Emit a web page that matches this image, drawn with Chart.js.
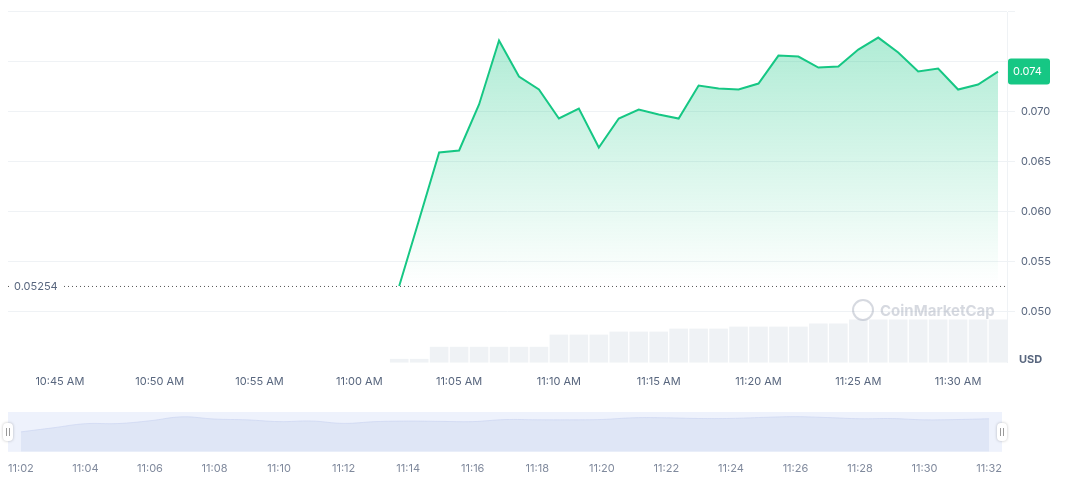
<!DOCTYPE html>
<html><head><meta charset="utf-8">
<script src="https://cdn.jsdelivr.net/npm/chart.js@4"></script>
<style>
body{margin:0;background:#fff;width:1072px;height:477px;overflow:hidden;font-family:Inter,sans-serif}
#c1{position:absolute;left:0;top:0}
#c2{position:absolute;left:0;top:400px}
</style></head><body>
<canvas id="c1" width="1072" height="392"></canvas>
<canvas id="c2" width="1072" height="77"></canvas>
<script>
// minutes after 10:00
const minutes = [62,63,64,65,66,67,68,69,70,71,72,73,74,75,76,77,78,79,80,81,82,83,84,85,86,87,88,89,90,91,92];
const prices = [0.05254,0.0592,0.0659,0.0661,0.0707,0.0771,0.0735,0.0722,0.0693,0.0703,0.0664,0.0693,0.0702,0.0697,0.0693,0.0726,0.0723,0.0722,0.0728,0.0756,0.0755,0.0744,0.0745,0.0762,0.0774,0.0759,0.0740,0.0743,0.0722,0.0727,0.0740];
const volumes = [4,4,16,16,16,16,16,16,28,28,28,31,31,31,34,34,34,36,36,36,36,39,39,43,43,43,43,43,43,43,43];
const yTicks = [0.050,0.055,0.060,0.065,0.070];
const refPrice = 0.05254;
const lastLabel = "0.074";
const fmt = m => { let h=10+Math.floor(m/60), mm=m%60; let hh=h>12?h-12:h; return hh+':'+String(mm).padStart(2,'0'); };
const GREEN = '#16c784';

const overlay = {
  id:'overlay',
  afterDatasetsDraw(ch){
    const {ctx, chartArea:a, scales:{x,y}} = ch;
    const yy = y.getPixelForValue(refPrice);
    ctx.save();
    ctx.setLineDash([1,3]); ctx.strokeStyle='#555'; ctx.lineWidth=1;
    ctx.beginPath(); ctx.moveTo(a.left,yy+0.5); ctx.lineTo(a.right,yy+0.5); ctx.stroke();
    ctx.setLineDash([]);
    ctx.fillStyle='#fff'; ctx.fillRect(a.left+2,yy-8,52,16);
    ctx.fillStyle='#58667e'; ctx.font='11px Inter'; ctx.textBaseline='middle';
    ctx.fillText(refPrice.toString(), a.left+6, yy+1);
    const ly = y.getPixelForValue(prices[prices.length-1]);
    ctx.fillStyle=GREEN;
    ctx.beginPath(); ctx.roundRect(a.right+1, ly-13, 42, 26, 3); ctx.fill();
    ctx.fillStyle='#fff'; ctx.font='11px Inter'; ctx.fillText(lastLabel, a.right+6, ly);
    ctx.fillStyle='#58667e'; ctx.font='bold 11px Inter'; ctx.fillText('USD', a.right+12, a.bottom-3);
    ctx.globalAlpha=0.35; ctx.fillStyle='#8a93a6'; ctx.strokeStyle='#8a93a6'; ctx.lineWidth=2;
    ctx.beginPath(); ctx.arc(863,310,10,0,Math.PI*2); ctx.stroke();
    ctx.font='bold 15px Inter'; ctx.fillText('CoinMarketCap', 880, 311);
    ctx.restore();
  }
};

new Chart(document.getElementById('c1'), {
  data:{ datasets:[
    {type:'line', data:minutes.map((m,i)=>({x:m,y:prices[i]})), borderColor:GREEN, borderWidth:2, pointRadius:0, tension:0, yAxisID:'y', order:0,
     fill:'start',
     backgroundColor(c){const a=c.chart.chartArea; if(!a) return 'rgba(22,199,132,0.2)'; const g=c.chart.ctx.createLinearGradient(0,30,0,285); g.addColorStop(0,'rgba(22,199,132,0.35)'); g.addColorStop(1,'rgba(22,199,132,0.0)'); return g;}},
    {type:'bar', data:minutes.map((m,i)=>({x:m,y:volumes[i]})), backgroundColor:'#eff2f5', borderColor:'#fff', borderWidth:{left:1,right:1,top:0,bottom:0}, barPercentage:1, categoryPercentage:1, yAxisID:'yv', order:1}
  ]},
  options:{
    responsive:false, animation:false,
    layout:{padding:{top:10,left:8,right:0,bottom:0}},
    plugins:{legend:{display:false},tooltip:{enabled:false}},
    scales:{
      x:{type:'linear', min:42.4, max:92.45, offset:false,
         grid:{display:false}, border:{display:false},
         afterBuildTicks(s){s.ticks=[45,50,55,60,65,70,75,80,85,90].map(v=>({value:v}));},
         ticks:{callback:v=>fmt(v)+' AM', color:'#58667e', font:{size:11,family:'Inter'}, maxRotation:0, padding:4}},
      y:{position:'right', min:0.04485, max:0.0799,
         afterBuildTicks(s){s.ticks=[0.050,0.055,0.060,0.065,0.070,0.075,0.080].map(v=>({value:v}));},
         afterFit(s){s.width=65;},
         grid:{color:'#eff2f5'}, border:{display:true,color:'#eff2f5'},
         ticks:{callback:v=>yTicks.some(t=>Math.abs(t-v)<1e-6)?v.toFixed(3):'', color:'#58667e', font:{size:11,family:'Inter'}, padding:6}},
      yv:{display:false, min:0, max:347}
    }
  },
  plugins:[overlay]
});

const navDeco = {
  id:'nav',
  beforeDatasetsDraw(ch){const {ctx,chartArea:a}=ch; ctx.save(); ctx.fillStyle='#eef2fc'; ctx.fillRect(a.left,a.top,a.right-a.left,a.bottom-a.top); ctx.restore();},
  afterDatasetsDraw(ch){const {ctx,chartArea:a}=ch; ctx.save();
    [a.left,a.right].forEach(x=>{ctx.fillStyle='#fff'; ctx.shadowColor='rgba(0,0,0,0.25)'; ctx.shadowBlur=3;
      ctx.beginPath(); ctx.roundRect(x-5,a.top+11,10,18,4); ctx.fill(); ctx.shadowBlur=0;
      ctx.strokeStyle='#999'; ctx.lineWidth=1; ctx.beginPath(); ctx.moveTo(x-1.5,a.top+16); ctx.lineTo(x-1.5,a.top+24); ctx.moveTo(x+1.5,a.top+16); ctx.lineTo(x+1.5,a.top+24); ctx.stroke();});
    ctx.restore();}
};
new Chart(document.getElementById('c2'), {
  type:'line',
  data:{datasets:[{data:minutes.map((m,i)=>({x:m,y:prices[i]})), borderColor:'rgba(200,210,240,0.6)', borderWidth:1, backgroundColor:'#dfe6f6', fill:'start', pointRadius:0, tension:0.4}]},
  options:{responsive:false, animation:false,
    layout:{padding:{top:12,left:8,right:70,bottom:0}},
    plugins:{legend:{display:false},tooltip:{enabled:false}},
    scales:{
      x:{type:'linear', min:61.6, max:92.4, grid:{display:false}, border:{display:false},
         afterBuildTicks(s){s.ticks=[62,64,66,68,70,72,74,76,78,80,82,84,86,88,90,92].map(v=>({value:v}));},
         ticks:{callback:v=>fmt(v), color:'#808a9d', font:{size:11,family:'Inter'}, maxRotation:0, padding:2}},
      y:{display:false, min:0.02, max:0.085}
    }},
  plugins:[navDeco]
});
</script></body></html>
